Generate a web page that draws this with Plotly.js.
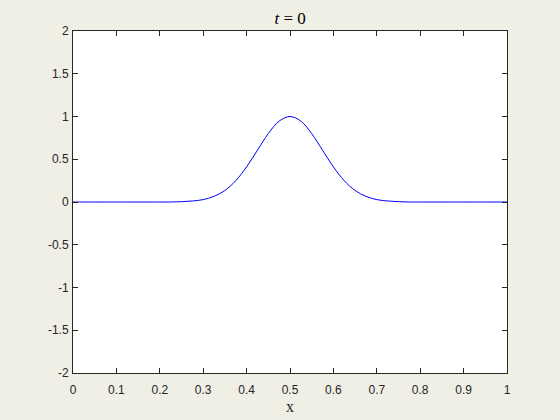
<!DOCTYPE html>
<html>
<head>
<meta charset="utf-8">
<script src="https://cdn.plot.ly/plotly-3.0.1.min.js"></script>
<style>html,body{margin:0;padding:0;background:#efefe6;}#chart{width:560px;height:420px;}</style>
</head>
<body>
<div id="chart"></div>
<script>
// Values
const xValues = [0,0.025,0.05,0.075,0.1,0.125,0.15,0.175,0.2,0.225,0.25,0.275,0.3,0.325,0.35,0.375,0.4,0.425,0.45,0.475,0.5,0.525,0.55,0.575,0.6,0.625,0.65,0.675,0.7,0.725,0.75,0.775,0.8,0.825,0.85,0.875,0.9,0.925,0.95,0.975,1];
const yValues = [0,0,0,0,0,0,0,0,0,0,0.0038,0.012,0.028,0.066,0.135,0.249,0.411,0.606,0.800,0.946,1,0.946,0.800,0.606,0.411,0.249,0.135,0.066,0.028,0.012,0.0038,0,0,0,0,0,0,0,0,0,0];
const xTicks = [0,0.1,0.2,0.3,0.4,0.5,0.6,0.7,0.8,0.9,1];
const xTickText = ['0','0.1','0.2','0.3','0.4','0.5','0.6','0.7','0.8','0.9','1'];
const yTicks = [-2,-1.5,-1,-0.5,0,0.5,1,1.5,2];
const yTickText = ['-2','-1.5','-1','-0.5','0','0.5','1','1.5','2'];

const axisCommon = {
  showgrid: false, zeroline: false, showline: true, mirror: 'ticks',
  linecolor: '#262626', linewidth: 1, ticks: 'inside', ticklen: 5,
  tickcolor: '#262626', tickwidth: 1,
  tickfont: {family: 'Liberation Sans, Arial, sans-serif', size: 12, color: '#262626'}
};

Plotly.newPlot('chart', [{
  x: xValues, y: yValues, type: 'scatter', mode: 'lines',
  line: {color: '#0000ff', width: 1, shape: 'spline', smoothing: 1},
  hoverinfo: 'none'
}], {
  width: 560, height: 420,
  paper_bgcolor: '#efefe6', plot_bgcolor: '#ffffff',
  margin: {l: 73, r: 53, t: 31, b: 47},
  showlegend: false,
  title: {text: '<i>t</i> = 0', x: 0.518, xanchor: 'center', y: 0.958, yanchor: 'middle',
    font: {family: 'Liberation Serif', size: 17, color: '#000000'}},
  xaxis: Object.assign({}, axisCommon, {
    range: [0, 1], tickvals: xTicks, ticktext: xTickText, ticklabelstandoff: 6,
    title: {text: 'x', standoff: 4, font: {family: 'Liberation Serif', size: 16, color: '#262626'}}
  }),
  yaxis: Object.assign({}, axisCommon, {
    range: [-2, 2], tickvals: yTicks, ticktext: yTickText, ticklabelstandoff: 1
  })
}, {staticPlot: true});
</script>
</body>
</html>
